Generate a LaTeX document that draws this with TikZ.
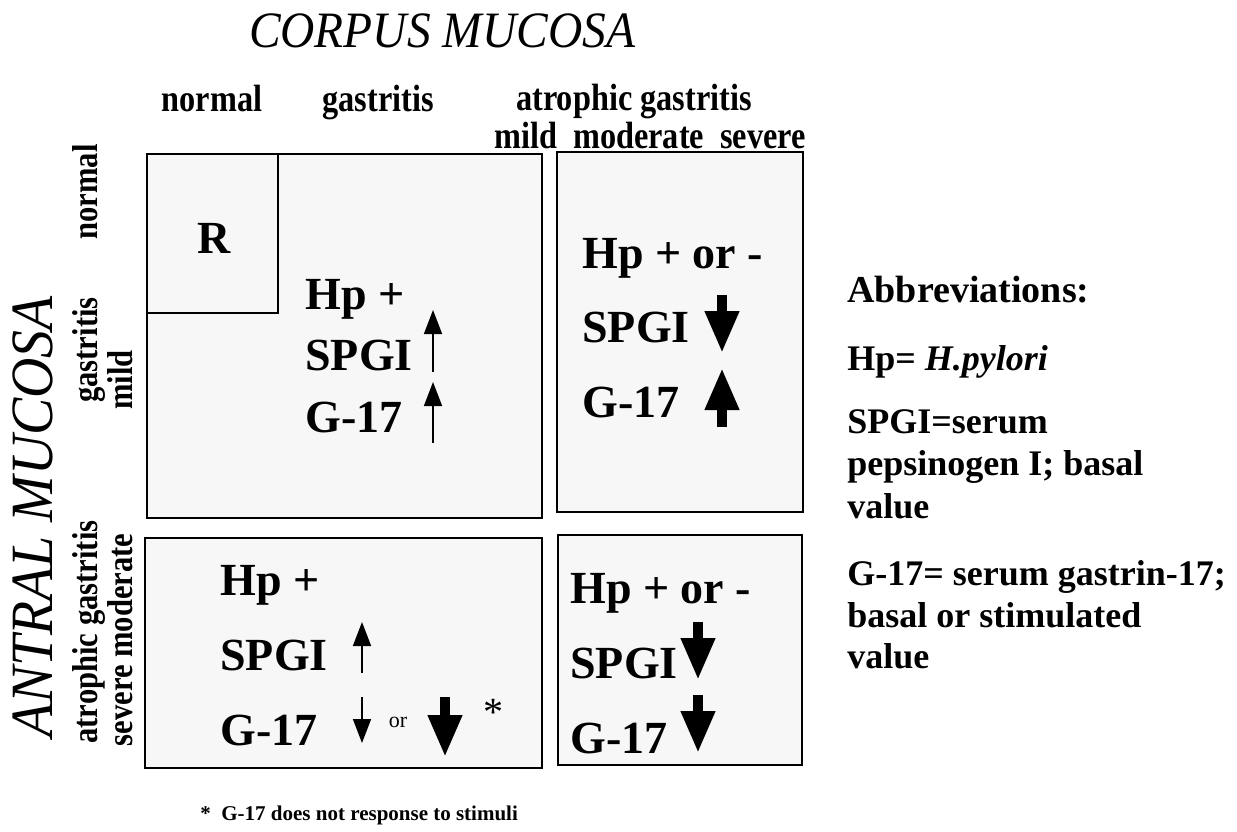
\documentclass[tikz,border=0pt]{standalone}
\usepackage{fontspec}
\setmainfont{Liberation Serif}
\newfontfamily\condserif{Liberation Serif}[FakeStretch=0.85]
\newfontfamily\titleserif{Liberation Serif}[FakeStretch=0.93]
\usetikzlibrary{arrows.meta}

\tikzset{
  panel/.style={draw, line width=1pt, fill=gray!6},
  cell/.style={font=\bfseries\fontsize{23}{23}\selectfont, anchor=base west, inner sep=0pt},
  colhead/.style={font=\condserif\bfseries\fontsize{19}{19}\selectfont, anchor=base, inner sep=0pt},
  rowhead/.style={font=\condserif\bfseries\fontsize{18}{18}\selectfont, anchor=base, rotate=90, inner sep=0pt},
  axistitle/.style={font=\titleserif\itshape\fontsize{25.5}{25.5}\selectfont, anchor=base, inner sep=0pt},
  abbrev/.style={font=\bfseries\fontsize{18}{18}\selectfont, anchor=base west, inner sep=0pt},
  thinarrow/.style={-{Triangle[length=12pt,width=9pt]}, line width=0.8pt},
  thickarrow/.style={-{Triangle[length=21pt,width=16pt]}, line width=5pt},
}

\begin{document}
\begin{tikzpicture}[x=0.5pt, y=-0.5pt]
    \path[use as bounding box, fill=white] (0,0) rectangle (1237,831);

    % panels
    \draw[panel] (147,154) rectangle (542,518);
    \draw[line width=1pt] (147,313) -- (278,313) -- (278,154);
    \draw[panel] (557,152) rectangle (803,512);
    \draw[panel] (145,538) rectangle (542,768);
    \draw[panel] (558,535) rectangle (802,765);

    % axis titles
    \node[axistitle] (corpus) at (442,47) {CORPUS MUCOSA};
    \node[axistitle, font=\titleserif\itshape\fontsize{30}{30}\selectfont, rotate=90] (antral) at (52,517) {ANTRAL MUCOSA};

    % column heads
    \node[colhead] (cnormal) at (212,111) {normal};
    \node[colhead] (cgast) at (378,111) {gastritis};
    \node[colhead] (catroph) at (634,110) {atrophic gastritis};
    \node[colhead] (cgrade) at (650,148) {mild\ \ moderate\ \ severe};

    % row heads
    \node[rowhead] (rnormal) at (97,192) {normal};
    \node[rowhead] (rgast) at (97,350) {gastritis};
    \node[rowhead] (ratroph) at (97,632) {atrophic gastritis};
    \node[rowhead] (rmild) at (132,380) {mild};
    \node[rowhead] (rgrade) at (132,640) {severe moderate};

    % top left
    \node[cell] (ref) at (197,253) {R};
    \node[cell] (hpA) at (305,309) {Hp +};
    \node[cell] (spgiA) at (305,370) {SPGI};
    \node[cell] (gA) at (305,432) {G-17};
    \draw[thinarrow] (433,372) -- (433,310);
    \draw[thinarrow] (433,443) -- (433,382);

    % top right
    \node[cell] (hpB) at (582,268) {Hp + or -};
    \node[cell] (spgiB) at (582,342) {SPGI};
    \node[cell] (gB) at (582,417) {G-17};
    \draw[thickarrow] (722,295) -- (722,353);
    \draw[thickarrow] (722,427) -- (722,368);

    % bottom left
    \node[cell] (hpC) at (220,595) {Hp +};
    \node[cell] (spgiC) at (220,670) {SPGI};
    \node[cell] (gC) at (220,745) {G-17};
    \draw[thinarrow] (362,673) -- (362,622);
    \draw[thinarrow] (362,697) -- (362,743);
    \node[anchor=base, inner sep=0pt, font=\fontsize{11}{11}\selectfont] (orC) at (398,727) {or};
    \draw[thickarrow] (445,697) -- (445,757);
    \node[anchor=base, inner sep=0pt, font=\fontsize{20}{20}\selectfont] (star) at (493,725) {*};

    % bottom right
    \node[cell] (hpD) at (570,603) {Hp + or -};
    \node[cell] (spgiD) at (570,678) {SPGI};
    \node[cell] (gD) at (570,753) {G-17};
    \draw[thickarrow] (698,622) -- (698,680);
    \draw[thickarrow] (698,695) -- (698,753);

    % abbreviations
    \node[abbrev, font=\bfseries\fontsize{19}{19}\selectfont] (abbr) at (847,302) {Abbreviations:};
    \node[abbrev] (abHp) at (847,370) {Hp= \textit{H.pylori}};
    \node[abbrev] (abS1) at (847,433) {SPGI=serum};
    \node[abbrev] (abS2) at (847,475) {pepsinogen I; basal};
    \node[abbrev] (abS3) at (847,518) {value};
    \node[abbrev] (abG1) at (847,585) {G-17= serum gastrin-17;};
    \node[abbrev] (abG2) at (847,627) {basal or stimulated};
    \node[abbrev] (abG3) at (847,668) {value};

    % footnote
    \node[abbrev, font=\bfseries\fontsize{10.5}{10.5}\selectfont] (note) at (200,820) {*\ \ G-17 does not response to stimuli};
\end{tikzpicture}
\end{document}
